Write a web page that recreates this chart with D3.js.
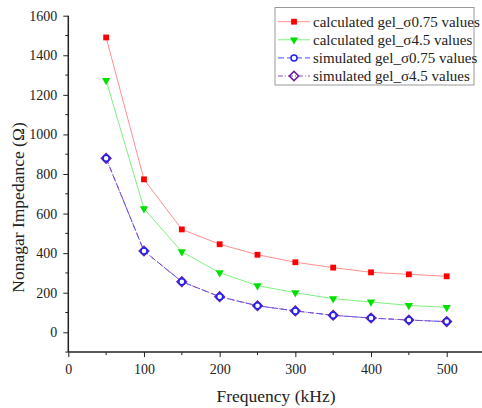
<!DOCTYPE html>
<html lang="en">
<head>
<meta charset="UTF-8">
<script src="https://d3js.org/d3.v7.min.js"></script>
<title>Nonagar Impedance vs Frequency</title>
<style>
  body { margin: 0; background: #fff; }
  svg { display: block; font-family: "Liberation Serif", "DejaVu Serif", serif; }
  .axis path, .axis line { stroke: #222; }
  .axis text { font-family: "Liberation Serif", serif; font-size: 14px; fill: #222; }
</style>
</head>
<body>
<svg width="482" height="408"></svg>
<script>
// values
const freq = [50, 100, 150, 200, 250, 300, 350, 400, 450, 500];
const calc075 = [1490, 773, 520, 445, 392, 354, 327, 303, 293, 283];
const calc45 = [1273, 625, 407, 301, 236, 200, 170, 153, 136, 126];
const sim075 = [879, 411, 256, 180, 134, 108, 86, 72, 62, 54];
const sim45 = [879, 411, 256, 180, 134, 108, 86, 72, 62, 54];
const xTicks = [0, 100, 200, 300, 400, 500];
const yTicks = [0, 200, 400, 600, 800, 1000, 1200, 1400, 1600];
const seriesNames = ["calculated gel_\u03c30.75 values", "calculated gel_\u03c34.5 values",
                     "simulated gel_\u03c30.75 values", "simulated gel_\u03c34.5 values"];

const svg = d3.select("svg");

const x = d3.scaleLinear().domain([0, 500]).range([68.3, 446.7]);
const y = d3.scaleLinear().domain([0, 1600]).range([332.3, 15.7]);
const xMax = x.invert(482);

// minor ticks
const g = svg.append("g");
g.selectAll(".xminor").data(d3.range(50, xMax, 100)).enter().append("line")
  .attr("x1", d => x(d)).attr("x2", d => x(d))
  .attr("y1", y(-100)).attr("y2", y(-100) + 3).attr("stroke", "#222");
g.selectAll(".yminor").data(d3.range(-100, 1600, 200)).enter().append("line")
  .attr("x1", x(0)).attr("x2", x(0) - 3)
  .attr("y1", d => y(d)).attr("y2", d => y(d)).attr("stroke", "#222");

// axes
svg.append("g").attr("class", "axis")
  .attr("transform", "translate(0," + y(-100) + ")")
  .call(d3.axisBottom(x).tickValues(xTicks).tickFormat(d3.format("d")).tickSize(5).tickPadding(7).tickSizeOuter(0))
  .call(a => a.select(".domain").attr("d", "M" + x(0) + ",0H482").attr("stroke-width", 1.5));

svg.append("g").attr("class", "axis")
  .attr("transform", "translate(" + x(0) + ",0)")
  .call(d3.axisLeft(y).tickValues(yTicks).tickFormat(d3.format("d")).tickSize(5).tickPadding(6).tickSizeOuter(0))
  .call(a => a.select(".domain").attr("d", "M0," + y(1600) + "V" + y(-100)).attr("stroke-width", 1.5));

// axis titles
svg.append("text").attr("x", 276).attr("y", 402).attr("text-anchor", "middle")
  .style("font-size", "17.5px").attr("fill", "#222").text("Frequency (kHz)");
svg.append("text").attr("transform", "translate(24,207.5) rotate(-90)").attr("text-anchor", "middle")
  .style("font-size", "17.5px").attr("fill", "#222").text("Nonagar Impedance (\u03a9)");

const line = d3.line().x((d, i) => x(freq[i])).y(d => y(d));

const styles = [
  { data: calc075, stroke: "#ff9090", dash: null },
  { data: calc45, stroke: "#80f080", dash: null },
  { data: sim075, stroke: "#4a4aff", dash: "6,3" },
  { data: sim45, stroke: "#9050c0", dash: "5,2,1,2" }
];

styles.forEach(s => {
  svg.append("path").datum(s.data).attr("d", line)
    .attr("fill", "none").attr("stroke", s.stroke).attr("stroke-width", 1)
    .attr("stroke-dasharray", s.dash);
});

const sq = d3.symbol().type(d3.symbolSquare).size(34);
const tri = d3.symbol().type(d3.symbolTriangle).size(30);
const dia = d3.symbol().type(d3.symbolSquare).size(44);

function drawMarkers(sel, k, px, py) {
  if (k === 0) {
    sel.append("path").attr("d", sq).attr("transform", "translate(" + px + "," + py + ")").attr("fill", "#ff0000");
  } else if (k === 1) {
    sel.append("path").attr("d", tri).attr("transform", "translate(" + px + "," + py + ") rotate(180)").attr("fill", "#00e000");
  } else if (k === 2) {
    sel.append("circle").attr("cx", px).attr("cy", py).attr("r", 3)
      .attr("fill", "#fff").attr("stroke", "#2020ff").attr("stroke-width", 1.5);
  } else {
    sel.append("path").attr("d", dia).attr("transform", "translate(" + px + "," + py + ") rotate(45)")
      .attr("fill", "none").attr("stroke", "#6a1f9a").attr("stroke-width", 1.6);
  }
}

const mk = svg.append("g");
[3, 2, 1, 0].forEach(k => {
  styles[k].data.forEach((v, i) => drawMarkers(mk, k, x(freq[i]), y(v)));
});

// legend
const lg = svg.append("g");
lg.append("rect").attr("x", 275).attr("y", 7.5).attr("width", 199).attr("height", 77.5)
  .attr("fill", "#fff").attr("stroke", "#999").attr("stroke-width", 1);
seriesNames.forEach((name, k) => {
  const cy = 21.7 + k * 18.1;
  lg.append("line").attr("x1", 278).attr("x2", 310).attr("y1", cy).attr("y2", cy)
    .attr("stroke", styles[k].stroke).attr("stroke-dasharray", styles[k].dash);
  drawMarkers(lg, k, 294, cy);
  lg.append("text").attr("x", 313).attr("y", cy + 5).style("font-size", "15px")
    .attr("fill", "#222").text(name);
});
</script>
</body>
</html>
